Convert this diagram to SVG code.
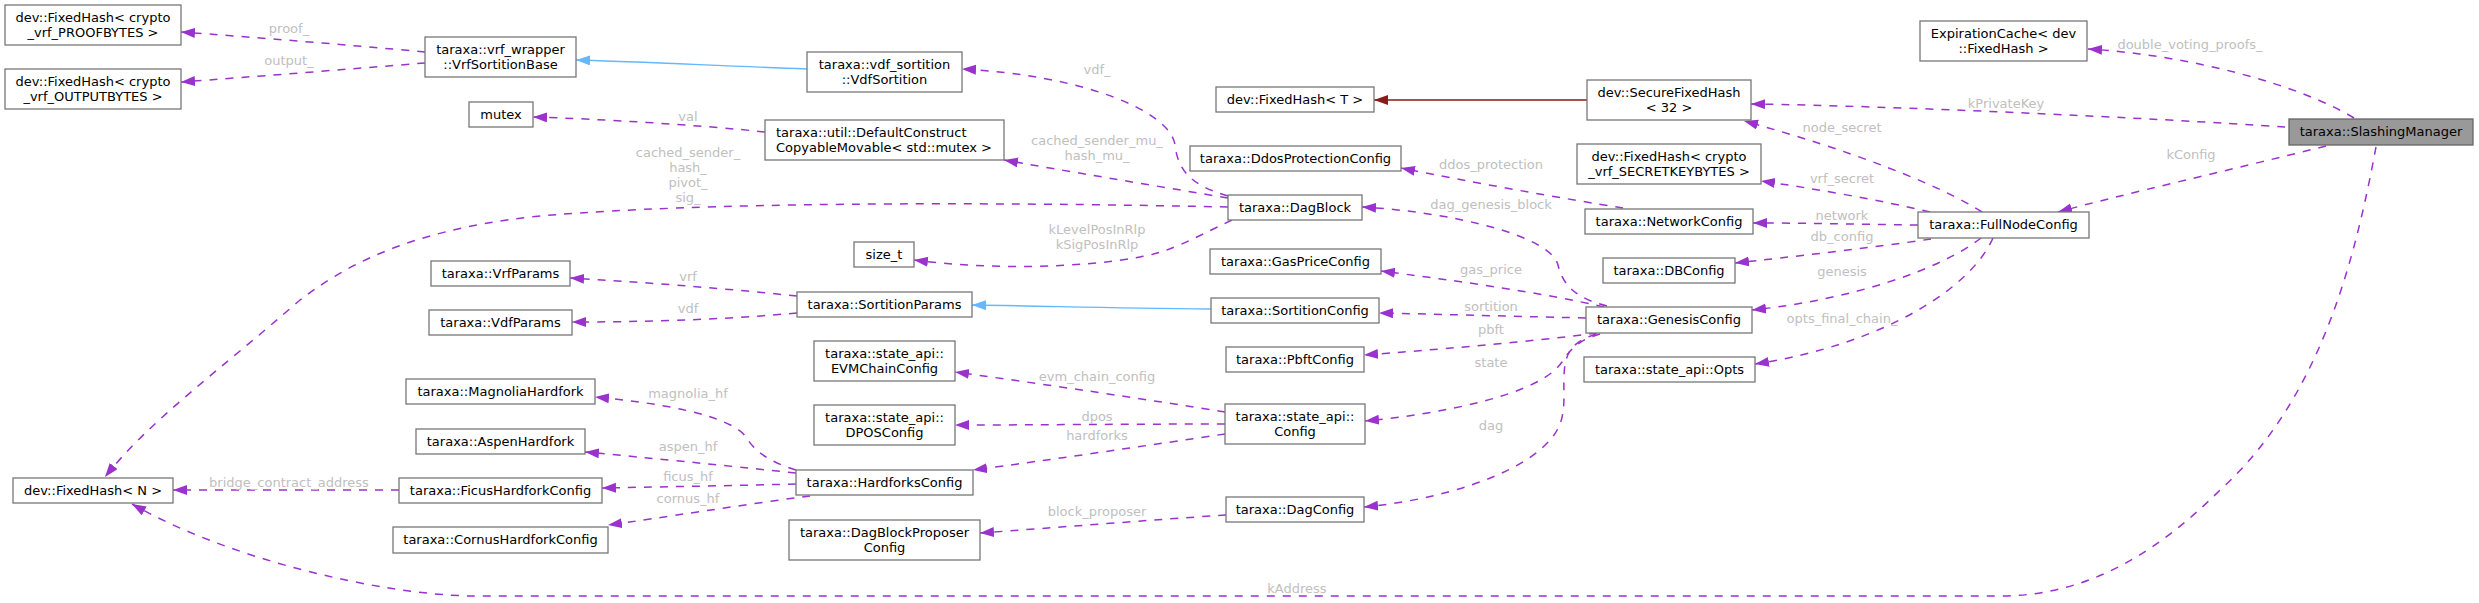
<svg xmlns="http://www.w3.org/2000/svg" width="2479" height="603" viewBox="0 0 2479 603">
<style>
.n rect{fill:#fff;stroke:#777;stroke-width:1.3}
.main rect{fill:#999;stroke:#666}
text{font-family:"DejaVu Sans",sans-serif;font-size:13px;fill:#000}
.n text{text-anchor:middle}
.n text.l{text-anchor:start}
.lbl{fill:#c0c0c0;text-anchor:middle}
.e{fill:none;stroke:#9a32cd;stroke-width:1.5;stroke-dasharray:8,8;marker-end:url(#ap)}
.inh{fill:none;stroke:#63b8ff;stroke-width:1.4;marker-end:url(#ab)}
.tpl{fill:none;stroke:#8b1a1a;stroke-width:1.4;marker-end:url(#ar)}
</style>
<defs>
<marker id="ap" markerUnits="userSpaceOnUse" markerWidth="15" markerHeight="11" refX="14" refY="5" orient="auto"><path d="M0,0L14,5L0,10z" fill="#9a32cd"/></marker>
<marker id="ab" markerUnits="userSpaceOnUse" markerWidth="15" markerHeight="11" refX="14" refY="5" orient="auto"><path d="M0,0L14,5L0,10z" fill="#63b8ff"/></marker>
<marker id="ar" markerUnits="userSpaceOnUse" markerWidth="15" markerHeight="11" refX="14" refY="5" orient="auto"><path d="M0,0L14,5L0,10z" fill="#8b1a1a"/></marker>
</defs>
<rect width="2479" height="603" fill="#fff"/>
<g id="edges">
<path class="e" d="M2354,118 C2300,85 2190,55 2088,49"/>
<text class="lbl" x="2190" y="49">double_voting_proofs_</text>
<path class="e" d="M2285,127 C2150,118 1900,106 1751,104"/>
<text class="lbl" x="2006" y="108">kPrivateKey</text>
<path class="e" d="M2326,146 C2230,170 2120,195 2058,212"/>
<text class="lbl" x="2191" y="159">kConfig</text>
<path class="e" d="M2376,147 C2355,260 2320,400 2220,490 C2150,560 2080,596 2000,596 L470,596 C380,594 230,560 132,504"/>
<text class="lbl" x="1297" y="593">kAddress</text>
<path class="e" d="M1982,212 C1940,185 1850,150 1744,121"/>
<text class="lbl" x="1842" y="132">node_secret</text>
<path class="e" d="M1930,212 C1880,200 1810,188 1761,181"/>
<text class="lbl" x="1842" y="183">vrf_secret</text>
<path class="e" d="M1918,225 C1850,224 1800,223 1753,223"/>
<text class="lbl" x="1842" y="220">network</text>
<path class="e" d="M1931,239 C1870,248 1790,257 1735,263"/>
<text class="lbl" x="1842" y="241">db_config</text>
<path class="e" d="M1981,238 C1940,270 1850,300 1752,310"/>
<text class="lbl" x="1842" y="276">genesis</text>
<path class="e" d="M1993,238 C1970,290 1880,345 1755,364"/>
<text class="lbl" x="1842" y="323">opts_final_chain_</text>
<path class="e" d="M1623,208 C1560,198 1470,182 1401,168"/>
<text class="lbl" x="1491" y="169">ddos_protection</text>
<path class="e" d="M1607,306 C1575,298 1563,285 1558,265 C1550,235 1450,212 1362,207"/>
<text class="lbl" x="1491" y="209">dag_genesis_block</text>
<path class="e" d="M1604,307 C1540,292 1450,280 1381,271"/>
<text class="lbl" x="1491" y="274">gas_price</text>
<path class="e" d="M1586,318 C1500,316 1430,314 1379,313"/>
<text class="lbl" x="1491" y="311">sortition</text>
<path class="e" d="M1597,333 C1520,343 1430,350 1364,355"/>
<text class="lbl" x="1491" y="334">pbft</text>
<path class="e" d="M1600,334 C1578,340 1570,350 1562,362 C1540,395 1440,414 1365,421"/>
<text class="lbl" x="1491" y="367">state</text>
<path class="e" d="M1596,334 C1572,342 1565,352 1564,375 C1563,400 1568,420 1550,440 C1520,475 1440,500 1364,507"/>
<text class="lbl" x="1491" y="430">dag</text>
<path class="e" d="M1228,196 C1190,185 1178,170 1175,145 C1170,110 1080,75 962,69"/>
<text class="lbl" x="1097" y="74">vdf_</text>
<path class="e" d="M1228,198 C1150,185 1060,170 1004,160"/>
<text class="lbl" x="1097" y="145">cached_sender_mu_</text>
<text class="lbl" x="1097" y="160">hash_mu_</text>
<path class="e" d="M1228,207 C900,200 650,205 530,217 C400,232 340,270 300,300 C220,370 150,420 105,477"/>
<text class="lbl" x="688" y="157">cached_sender_</text>
<text class="lbl" x="688" y="172">hash_</text>
<text class="lbl" x="688" y="187">pivot_</text>
<text class="lbl" x="688" y="201.5">sig_</text>
<path class="e" d="M1232,220 C1190,240 1170,252 1140,257 C1080,268 990,270 914,260"/>
<text class="lbl" x="1097" y="234">kLevelPosInRlp</text>
<text class="lbl" x="1097" y="248.5">kSigPosInRlp</text>
<path class="e" d="M765,132 C700,125 600,119 533,117"/>
<text class="lbl" x="688" y="120.5">val</text>
<path class="inh" d="M807,69 C720,66 650,62 576,60"/>
<path class="e" d="M425,52 C350,45 250,37 181,32"/>
<text class="lbl" x="289" y="32.5">proof_</text>
<path class="e" d="M425,63 C350,69 250,77 181,82"/>
<text class="lbl" x="289" y="64.5">output_</text>
<path class="tpl" d="M1587,100 L1374,100"/>
<path class="inh" d="M1211,309 C1100,308 1050,306 972,305"/>
<path class="e" d="M797,296 C720,288 640,282 570,278"/>
<text class="lbl" x="688" y="280.5">vrf</text>
<path class="e" d="M797,313 C720,320 640,322 572,322"/>
<text class="lbl" x="688" y="313">vdf</text>
<path class="e" d="M1225,412 C1150,400 1050,385 955,372"/>
<text class="lbl" x="1097" y="380.5">evm_chain_config</text>
<path class="e" d="M1225,424 C1130,424 1040,425 955,425"/>
<text class="lbl" x="1097" y="420.5">dpos</text>
<path class="e" d="M1225,434 C1150,445 1050,460 973,470"/>
<text class="lbl" x="1097" y="440">hardforks</text>
<path class="e" d="M796,470 C770,462 755,452 746,437 C730,415 660,403 595,397"/>
<text class="lbl" x="688" y="397.5">magnolia_hf</text>
<path class="e" d="M796,473 C720,465 650,458 585,452"/>
<text class="lbl" x="688" y="450.5">aspen_hf</text>
<path class="e" d="M796,484 C720,486 650,487 602,488"/>
<text class="lbl" x="688" y="480.5">ficus_hf</text>
<path class="e" d="M810,496 C740,505 660,518 608,525"/>
<text class="lbl" x="688" y="503">cornus_hf</text>
<path class="e" d="M399,490 L173,490"/>
<text class="lbl" x="289" y="487">bridge_contract_address</text>
<path class="e" d="M1226,515 C1150,520 1050,528 980,533"/>
<text class="lbl" x="1097" y="516">block_proposer</text>
</g>
<g id="n_proof" class="n"><rect x="5" y="5" width="176" height="40"/><text x="93" y="21.5">dev::FixedHash&lt; crypto</text><text x="93" y="36.5">_vrf_PROOFBYTES &gt;</text></g>
<g id="n_output" class="n"><rect x="5" y="69" width="176" height="40"/><text x="93" y="85.5">dev::FixedHash&lt; crypto</text><text x="93" y="100.5">_vrf_OUTPUTBYTES &gt;</text></g>
<g id="n_vrfbase" class="n"><rect x="425" y="37" width="151" height="40"/><text x="500.5" y="53.5">taraxa::vrf_wrapper</text><text x="500.5" y="68.5">::VrfSortitionBase</text></g>
<g id="n_mutex" class="n"><rect x="469" y="102" width="64" height="25"/><text x="501" y="118.5">mutex</text></g>
<g id="n_vdfsort" class="n"><rect x="807" y="52" width="155" height="40"/><text x="884.5" y="68.5">taraxa::vdf_sortition</text><text x="884.5" y="83.5">::VdfSortition</text></g>
<g id="n_dccm" class="n"><rect x="765" y="120" width="239" height="40"/><text class="l" x="776" y="136.5">taraxa::util::DefaultConstruct</text><text class="l" x="776" y="151.5">CopyableMovable&lt; std::mutex &gt;</text></g>
<g id="n_sizet" class="n"><rect x="854" y="242" width="60" height="25"/><text x="884" y="258.5">size_t</text></g>
<g id="n_fht" class="n"><rect x="1216" y="87" width="158" height="25"/><text x="1295" y="103.5">dev::FixedHash&lt; T &gt;</text></g>
<g id="n_sfh" class="n"><rect x="1587" y="80" width="164" height="40"/><text x="1669" y="96.5">dev::SecureFixedHash</text><text x="1669" y="111.5">&lt; 32 &gt;</text></g>
<g id="n_expc" class="n"><rect x="1920" y="21" width="167" height="40"/><text x="2003.5" y="37.5">ExpirationCache&lt; dev</text><text x="2003.5" y="52.5">::FixedHash &gt;</text></g>
<g id="n_slash" class="n main"><rect x="2289" y="119" width="184" height="26"/><text x="2381" y="136">taraxa::SlashingManager</text></g>
<g id="n_ddos" class="n"><rect x="1190" y="146" width="211" height="25"/><text x="1295.5" y="162.5">taraxa::DdosProtectionConfig</text></g>
<g id="n_dagblock" class="n"><rect x="1228" y="195" width="134" height="25"/><text x="1295" y="211.5">taraxa::DagBlock</text></g>
<g id="n_gas" class="n"><rect x="1210" y="249" width="171" height="25"/><text x="1295.5" y="265.5">taraxa::GasPriceConfig</text></g>
<g id="n_secret" class="n"><rect x="1577" y="144" width="184" height="40"/><text x="1669" y="160.5">dev::FixedHash&lt; crypto</text><text x="1669" y="175.5">_vrf_SECRETKEYBYTES &gt;</text></g>
<g id="n_net" class="n"><rect x="1585" y="209" width="168" height="25"/><text x="1669" y="225.5">taraxa::NetworkConfig</text></g>
<g id="n_db" class="n"><rect x="1603" y="258" width="132" height="25"/><text x="1669" y="274.5">taraxa::DBConfig</text></g>
<g id="n_fnc" class="n"><rect x="1918" y="212" width="171" height="26"/><text x="2003.5" y="229">taraxa::FullNodeConfig</text></g>
<g id="n_fhn" class="n"><rect x="13" y="478" width="160" height="25"/><text x="93" y="494.5">dev::FixedHash&lt; N &gt;</text></g>
<g id="n_vrfp" class="n"><rect x="431" y="261" width="139" height="25"/><text x="500.5" y="277.5">taraxa::VrfParams</text></g>
<g id="n_vdfp" class="n"><rect x="429" y="310" width="143" height="25"/><text x="500.5" y="326.5">taraxa::VdfParams</text></g>
<g id="n_sortp" class="n"><rect x="797" y="292" width="175" height="25"/><text x="884.5" y="308.5">taraxa::SortitionParams</text></g>
<g id="n_sortc" class="n"><rect x="1211" y="298" width="168" height="25"/><text x="1295" y="314.5">taraxa::SortitionConfig</text></g>
<g id="n_evm" class="n"><rect x="814" y="341" width="141" height="40"/><text x="884.5" y="357.5">taraxa::state_api::</text><text x="884.5" y="372.5">EVMChainConfig</text></g>
<g id="n_dpos" class="n"><rect x="814" y="405" width="141" height="40"/><text x="884.5" y="421.5">taraxa::state_api::</text><text x="884.5" y="436.5">DPOSConfig</text></g>
<g id="n_hf" class="n"><rect x="796" y="470" width="177" height="25"/><text x="884.5" y="486.5">taraxa::HardforksConfig</text></g>
<g id="n_mag" class="n"><rect x="406" y="379" width="189" height="25"/><text x="500.5" y="395.5">taraxa::MagnoliaHardfork</text></g>
<g id="n_aspen" class="n"><rect x="416" y="429" width="169" height="25"/><text x="500.5" y="445.5">taraxa::AspenHardfork</text></g>
<g id="n_ficus" class="n"><rect x="399" y="478" width="203" height="25"/><text x="500.5" y="494.5">taraxa::FicusHardforkConfig</text></g>
<g id="n_cornus" class="n"><rect x="393" y="527" width="215" height="26"/><text x="500.5" y="544">taraxa::CornusHardforkConfig</text></g>
<g id="n_dbpc" class="n"><rect x="789" y="520" width="191" height="40"/><text x="884.5" y="536.5">taraxa::DagBlockProposer</text><text x="884.5" y="551.5">Config</text></g>
<g id="n_pbft" class="n"><rect x="1226" y="347" width="138" height="25"/><text x="1295" y="363.5">taraxa::PbftConfig</text></g>
<g id="n_config" class="n"><rect x="1225" y="404" width="140" height="40"/><text x="1295" y="420.5">taraxa::state_api::</text><text x="1295" y="435.5">Config</text></g>
<g id="n_dagc" class="n"><rect x="1226" y="497" width="138" height="25"/><text x="1295" y="513.5">taraxa::DagConfig</text></g>
<g id="n_gen" class="n"><rect x="1586" y="307" width="166" height="26"/><text x="1669" y="324">taraxa::GenesisConfig</text></g>
<g id="n_opts" class="n"><rect x="1584" y="357" width="171" height="25"/><text x="1669.5" y="373.5">taraxa::state_api::Opts</text></g>
</svg>
